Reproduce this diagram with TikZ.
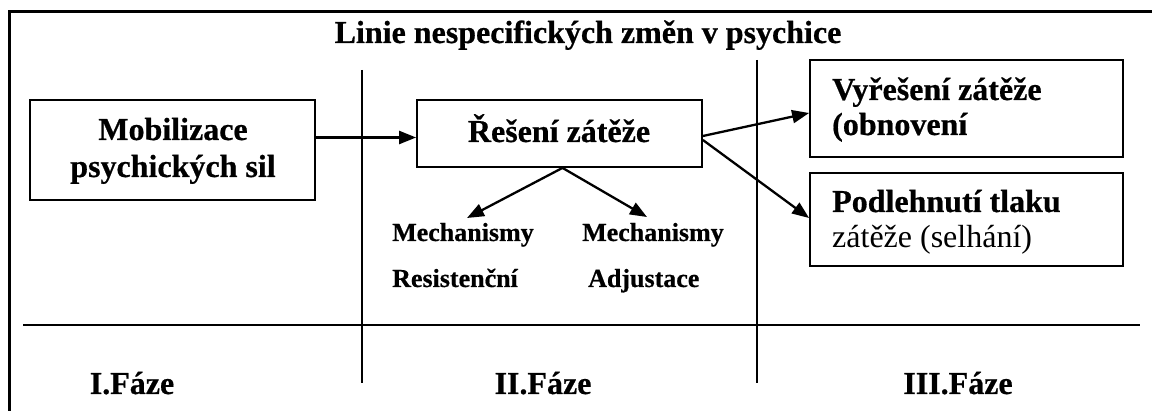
\documentclass[tikz,border=0pt]{standalone}
\usepackage{fontspec}
\setmainfont{Liberation Serif}[BoldFeatures={FakeBold=0.6}]
\usetikzlibrary{arrows.meta}
\begin{document}
\begin{tikzpicture}[x=1pt,y=-1pt,
  box/.style={draw, line width=1.8pt, inner sep=0pt},
  conn/.style={line width=2.3pt, -{Triangle[length=17pt,width=13pt]}},
  sepline/.style={line width=1.3pt},
  big/.style={font=\bfseries\fontsize{32}{36}\selectfont, inner sep=0pt, anchor=base},
  bigl/.style={font=\bfseries\fontsize{32}{36}\selectfont, inner sep=0pt, anchor=base west},
  regl/.style={font=\fontsize{32}{36}\selectfont, inner sep=0pt, anchor=base west},
  small/.style={font=\bfseries\fontsize{26}{30}\selectfont, inner sep=0pt, anchor=base west},
]
\useasboundingbox (0,0) rectangle (1152,411);
% frame
\draw[line width=3pt] (9,411) -- (9,12) -- (1152,12);
% separators
\draw[sepline] (362,70) -- (362,383);
\draw[sepline] (757,60) -- (757,383);
\draw[line width=2pt] (23,325) -- (1140,325);
% title
\node[big] (title) at (588,43) {Linie nespecifických změn v psychice};
% boxes
\node[box, minimum width=285pt, minimum height=100pt] (mob) at (172.5,150) {};
\node[box, minimum width=285pt, minimum height=67pt] (res) at (559.5,133.5) {};
\node[box, minimum width=313pt, minimum height=97pt] (vyr) at (966.5,108.5) {};
\node[box, minimum width=313pt, minimum height=93pt] (pod) at (966.5,219.5) {};
% box texts
\node[big] (mob1) at (173,140) {Mobilizace};
\node[big] (mob2) at (173,177) {psychických sil};
\node[big] (res1) at (559,142) {Řešení zátěže};
\node[bigl] (vyr1) at (832,100) {Vyřešení zátěže};
\node[bigl] (vyr2) at (832,135) {(obnovení};
\node[bigl] (pod1) at (832,212) {Podlehnutí tlaku};
\node[regl] (pod2) at (832,248) {zátěže (selhání)};
% mechanisms
\node[small] (m1) at (392,241) {Mechanismy};
\node[small] (r1) at (392,287) {Resistenční};
\node[small] (m2) at (582,241) {Mechanismy};
\node[small] (a2) at (588,287) {Adjustace};
\coordinate (tipL) at (467,218);
\coordinate (tipR) at (647,217);
% phases
\node[big] (f1) at (132,394) {I.Fáze};
\node[big] (f2) at (543,394) {II.Fáze};
\node[big] (f3) at (958,394) {III.Fáze};
% connectors
\draw[conn] ([yshift=12.5pt]mob.east) -- ([yshift=-4pt]res.west);
\draw[conn] ([yshift=-2.5pt]res.east) -- ([yshift=-4.5pt]vyr.west);
\draw[conn] ([yshift=-6.5pt]res.east) -- ([yshift=1.5pt]pod.west);
\draw[conn] ([xshift=3pt]res.south) -- (tipL);
\draw[conn] ([xshift=3pt]res.south) -- (tipR);
\end{tikzpicture}
\end{document}
